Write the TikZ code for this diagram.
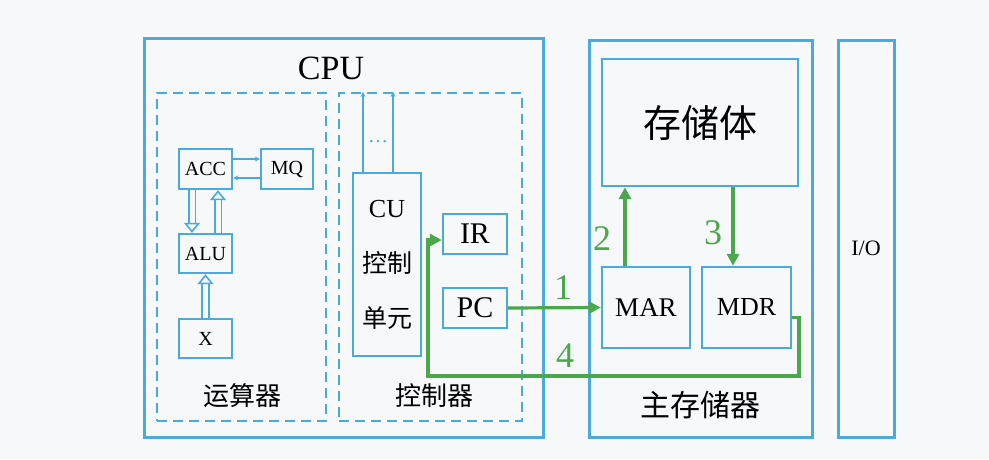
\documentclass[tikz,border=0pt]{standalone}
\usepackage{fontspec}
\setmainfont{Liberation Serif}
\newfontfamily\cjk{Noto Sans CJK SC}
\usetikzlibrary{
  positioning,
  arrows.meta,
}
\definecolor{boxblue}{RGB}{74,170,220}
\definecolor{flowgreen}{RGB}{74,168,74}
\definecolor{paper}{RGB}{247,248,250}
\tikzset{
  frame/.style={draw=boxblue,line width=3pt},
  group/.style={draw=boxblue,line width=2.2pt,dash pattern=on 10pt off 6pt},
  reg/.style={draw=boxblue,line width=2.4pt,inner sep=0pt},
  flow/.style={draw=flowgreen,line width=3.2pt,-{Triangle[length=12pt,width=12pt]}},
  num/.style={text=flowgreen,font=\fontsize{36}{36}\selectfont},
  hollow/.style={draw=boxblue,double=paper,double distance=5pt,line width=1.6pt,-{Triangle[open,length=10pt,width=16pt,fill=paper,line width=1.6pt]}},
  thin/.style={draw=boxblue,line width=1.4pt,-{Stealth[length=5pt,width=5pt]}},
}

\begin{document}
\begin{tikzpicture}[x=1pt,y=-1pt]
\useasboundingbox[fill=paper] (0,0) rectangle (989,459);
\node[frame,minimum width=399pt,minimum height=399pt] (cpu) at (344,237.5) {};
\node[font=\fontsize{34}{34}\selectfont] (cputitle) at (331,68) {CPU};
\node[group,minimum width=169pt,minimum height=328pt] (alugrp) at (241.5,257) {};
\node[group,minimum width=183pt,minimum height=328pt] (ctrlgrp) at (430.5,257) {};
\node[font=\cjk\fontsize{26}{26}\selectfont] (alulabel) at (242,396) {运算器};
\node[font=\cjk\fontsize{26}{26}\selectfont] (ctrllabel) at (434,396) {控制器};

\node[reg,minimum width=53pt,minimum height=40pt,font=\fontsize{20}{20}\selectfont] (acc) at (205.5,169) {ACC};
\node[reg,minimum width=52pt,minimum height=40pt,font=\fontsize{20}{20}\selectfont] (mq) at (287,169) {MQ};
\node[reg,minimum width=53pt,minimum height=39pt,font=\fontsize{20}{20}\selectfont] (alu) at (205.5,253.5) {ALU};
\node[reg,minimum width=53pt,minimum height=39pt,font=\fontsize{20}{20}\selectfont] (x) at (205.5,338.5) {X};
\draw[thin] ([yshift=10pt]acc.east) -- ([yshift=10pt]mq.west);
\draw[thin] ([yshift=-9pt]mq.west) -- ([yshift=-9pt]acc.east);
\draw[hollow] ([xshift=-13.5pt]acc.south) -- ([xshift=-13.5pt]alu.north);
\draw[hollow] ([xshift=12.5pt]alu.north) -- ([xshift=12.5pt]acc.south);
\draw[hollow] (x.north) -- (alu.south);

\node[reg,minimum width=68pt,minimum height=183pt,align=center,font=\cjk\fontsize{25}{55}\selectfont] (cu) at (387,264.5) {\fontspec{Liberation Serif}\fontsize{26}{55}\selectfont CU\\控制\\单元};
\draw[thin] ([xshift=-24pt]cu.north) -- ([xshift=-24pt]cu.north |- ctrlgrp.north);
\draw[thin] ([xshift=6pt]cu.north) -- ([xshift=6pt]cu.north |- ctrlgrp.north);
\node[text=boxblue,font=\fontsize{20}{20}\selectfont] (dots) at (378,142) {\ldots};
\node[reg,minimum width=64pt,minimum height=40pt,font=\fontsize{30}{30}\selectfont] (ir) at (475,234) {IR};
\node[reg,minimum width=64pt,minimum height=40pt,font=\fontsize{30}{30}\selectfont] (pc) at (475,308) {PC};

\node[frame,minimum width=223pt,minimum height=397pt] (mem) at (700.5,238.5) {};
\node[font=\cjk\fontsize{30}{30}\selectfont] (memlabel) at (700,405) {主存储器};
\node[reg,minimum width=196pt,minimum height=127pt,font=\cjk\fontsize{38}{38}\selectfont] (body) at (700,122.5) {存储体};
\node[reg,minimum width=88pt,minimum height=81pt,font=\fontsize{27}{27}\selectfont] (mar) at (646,307.5) {MAR};
\node[reg,minimum width=89pt,minimum height=81pt,font=\fontsize{26}{26}\selectfont] (mdr) at (746.5,307.5) {MDR};

\node[frame,minimum width=56pt,minimum height=397pt] (io) at (866,238.5) {};
\node[font=\fontsize{22}{22}\selectfont,yshift=-9.5pt] (iolabel) at (io.center) {I/O};

\draw[flow] (pc.east) -- (mar.west);
\draw[flow] ([xshift=-21pt]mar.north) -- ([xshift=-21pt]mar.north |- body.south);
\draw[flow] ([xshift=-13.5pt]mdr.north |- body.south) -- ([xshift=-13.5pt]mdr.north);
\draw[flow] ([yshift=-10pt]mdr.east) -| (799,376) -| (428,240) -- (ir.west |- 0,240);
\node[num] (n1) at (563,288) {1};
\node[num] (n2) at (602,239) {2};
\node[num] (n3) at (713,233) {3};
\node[num] (n4) at (565,356) {4};
\end{tikzpicture}
\end{document}
